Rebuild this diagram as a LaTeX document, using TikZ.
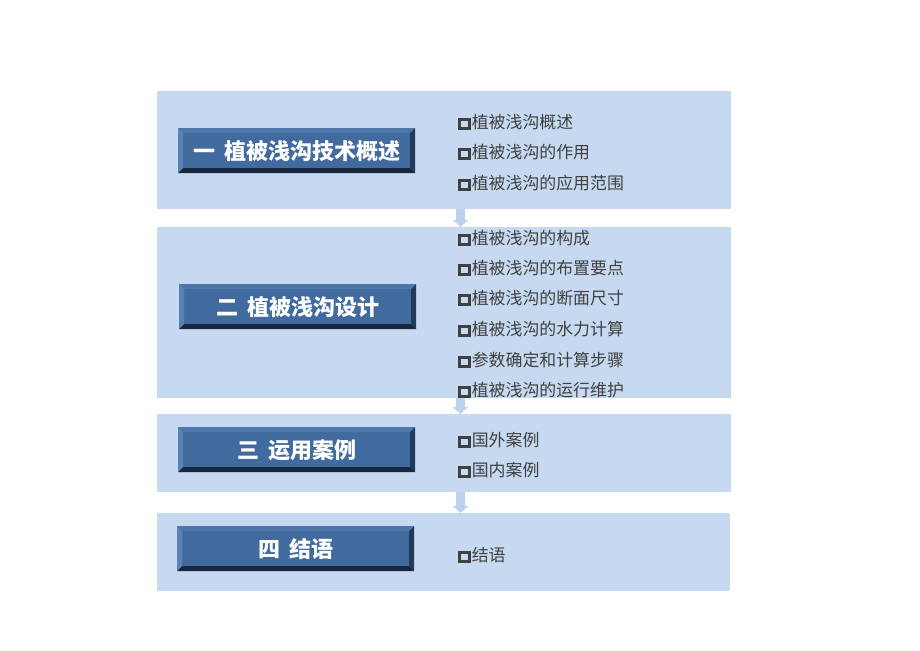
\documentclass[tikz,border=0pt]{standalone}
\usepackage{fontspec}
\setmainfont{Noto Sans CJK SC}
\usetikzlibrary{calc,arrows.meta}
\definecolor{panelblue}{HTML}{C6D9F0}
\definecolor{arrowblue}{HTML}{BDD1EC}
\definecolor{btnface}{HTML}{416B9F}
\definecolor{btnlight}{HTML}{5A81B3}
\definecolor{btntop}{HTML}{4D77AA}
\definecolor{btndark}{HTML}{17273F}
\definecolor{btnright}{HTML}{22395A}
\definecolor{itemgray}{HTML}{404040}
\newcommand\sqbox{\raisebox{1.2pt}{\setlength{\fboxsep}{0pt}\setlength{\fboxrule}{2.9pt}\color{itemgray}\fbox{\hspace{6.6pt}\rule{0pt}{6.4pt}}}\hspace{1.2pt}}
\tikzset{
  panel/.style={fill=panelblue, draw=none, anchor=north west, inner sep=0pt},
  item/.style={anchor=west, inner sep=0pt, text=itemgray, font=\fontsize{16.9}{19}\selectfont},
  flowarrow/.style={draw=arrowblue, line width=9pt, -{Triangle[width=15pt,length=7pt]}},
  button/.style={anchor=north west, minimum width=237pt, minimum height=45pt, inner sep=0pt,
    text=white, font=\bfseries\fontsize{22}{25}\selectfont, fill=btnface,
    path picture={
      \coordinate (NW) at (path picture bounding box.north west);
      \coordinate (NE) at (path picture bounding box.north east);
      \coordinate (SW) at (path picture bounding box.south west);
      \coordinate (SE) at (path picture bounding box.south east);
      \fill[btntop] (NW) -- (NE) -- ($(NE)+(-5pt,-5pt)$) -- ($(NW)+(5pt,-5pt)$) -- cycle;
      \fill[btnlight] (NW) -- (SW) -- ($(SW)+(5pt,5pt)$) -- ($(NW)+(5pt,-5pt)$) -- cycle;
      \fill[btndark] (SW) -- (SE) -- ($(SE)+(-5pt,5pt)$) -- ($(SW)+(5pt,5pt)$) -- cycle;
      \fill[btnright] (NE) -- (SE) -- ($(SE)+(-5pt,5pt)$) -- ($(NE)+(-5pt,-5pt)$) -- cycle;
    }},
}
\begin{document}
\begin{tikzpicture}[x=1pt,y=-1pt]
\useasboundingbox (0,0) rectangle (920,650);
% panels
\node[panel, minimum width=574pt, minimum height=118pt] (p1) at (157,91) {};
\node[panel, minimum width=574pt, minimum height=171pt] (p2) at (157,227) {};
\node[panel, minimum width=574pt, minimum height=78pt] (p3) at (157,414) {};
\node[panel, minimum width=573pt, minimum height=78pt] (p4) at (157,513) {};
% arrows
\coordinate (ax) at (460.5,0);
\draw[flowarrow] (p1.south -| ax) -- (p2.north -| ax);
\draw[flowarrow] (p2.south -| ax) -- (p3.north -| ax);
\draw[flowarrow] (p3.south -| ax) -- (p4.north -| ax);
% buttons
\node[button] (b1) at (178,128) {一\hspace{0.4em}植被浅沟技术概述};
\node[button] (b2) at (179,284) {二\hspace{0.4em}植被浅沟设计};
\node[button] (b3) at (178,427) {三\hspace{0.4em}运用案例};
\node[button] (b4) at (177,526) {四\hspace{0.4em}结语};
% items
\node[item] (i11) at (458,122) {\sqbox 植被浅沟概述};
\node[item] (i12) at (458,152) {\sqbox 植被浅沟的作用};
\node[item] (i13) at (458,183) {\sqbox 植被浅沟的应用范围};
\node[item] (i21) at (458,238) {\sqbox 植被浅沟的构成};
\node[item] (i22) at (458,268) {\sqbox 植被浅沟的布置要点};
\node[item] (i23) at (458,298) {\sqbox 植被浅沟的断面尺寸};
\node[item] (i24) at (458,329) {\sqbox 植被浅沟的水力计算};
\node[item] (i25) at (458,360) {\sqbox 参数确定和计算步骤};
\node[item] (i26) at (458,390) {\sqbox 植被浅沟的运行维护};
\node[item] (i31) at (458,440) {\sqbox 国外案例};
\node[item] (i32) at (458,470) {\sqbox 国内案例};
\node[item] (i41) at (458,555) {\sqbox 结语};
\end{tikzpicture}
\end{document}
